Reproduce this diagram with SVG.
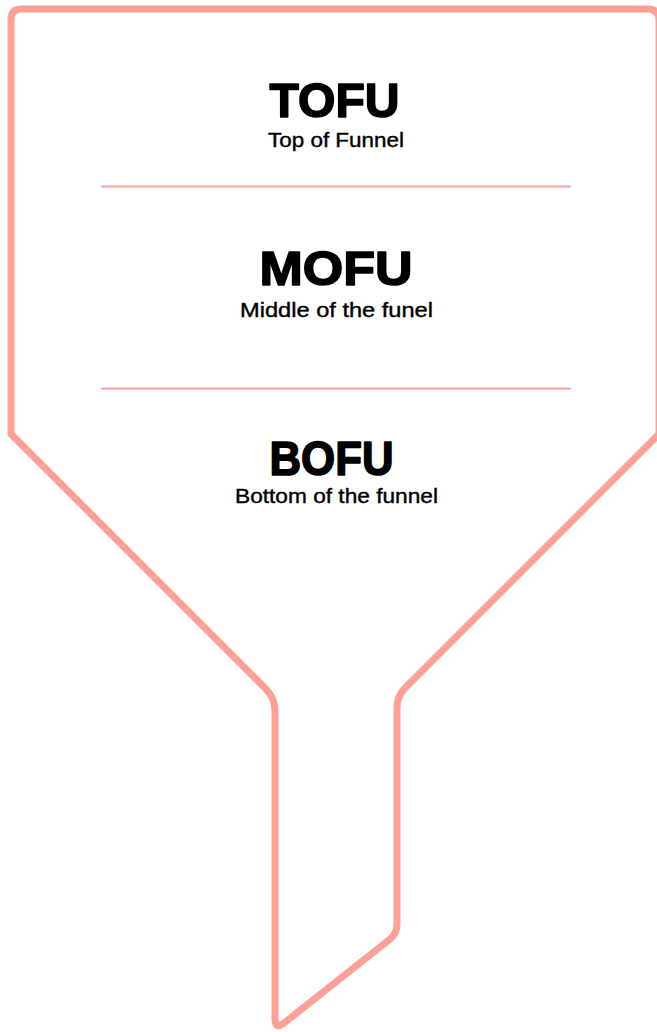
<svg xmlns="http://www.w3.org/2000/svg" width="657" height="1032" viewBox="0 0 657 1032">
<style>
.outline{fill:none;stroke:#FEA096;stroke-width:7;stroke-linejoin:round;stroke-linecap:round}
.divider{stroke:#FEA096;stroke-width:2}
.title{font-family:"Liberation Sans",Arial,sans-serif;font-weight:bold;font-size:48px;fill:#000;stroke:#000;stroke-width:1.6;stroke-linejoin:round;text-anchor:middle}
.sub{font-family:"Liberation Sans",Arial,sans-serif;font-size:21px;fill:#000;stroke:#000;stroke-width:0.4;text-anchor:middle}
</style>
<rect width="657" height="1032" fill="#fff"/>
<g id="funnel">
<path class="outline" d="M 21 9 L 648 9 Q 659 9 659 20 L 659 434 L 405 688 Q 397 696 397 708 L 397 924 Q 397 934 389 940 L 284 1023 Q 275 1030 275 1019 L 275 712 Q 275 698 266 689 L 11 434 L 11 20 Q 11 9 21 9 Z"/>
</g>
<g id="connectors">
<line class="divider" x1="101" y1="186.5" x2="571" y2="186.5"/>
<line class="divider" x1="101" y1="388.5" x2="571" y2="388.5"/>
</g>
<g id="tofu">
<text class="title" x="334.5" y="117" textLength="130" lengthAdjust="spacingAndGlyphs">TOFU</text>
<text class="sub" x="336" y="147" textLength="136" lengthAdjust="spacingAndGlyphs">Top of Funnel</text>
</g>
<g id="mofu">
<text class="title" x="336" y="285" textLength="153" lengthAdjust="spacingAndGlyphs">MOFU</text>
<text class="sub" x="336.5" y="317" textLength="193" lengthAdjust="spacingAndGlyphs">Middle of the funel</text>
</g>
<g id="bofu">
<text class="title" x="331.5" y="475" textLength="124" lengthAdjust="spacingAndGlyphs">BOFU</text>
<text class="sub" x="336.5" y="503" textLength="203" lengthAdjust="spacingAndGlyphs">Bottom of the funnel</text>
</g>
</svg>
